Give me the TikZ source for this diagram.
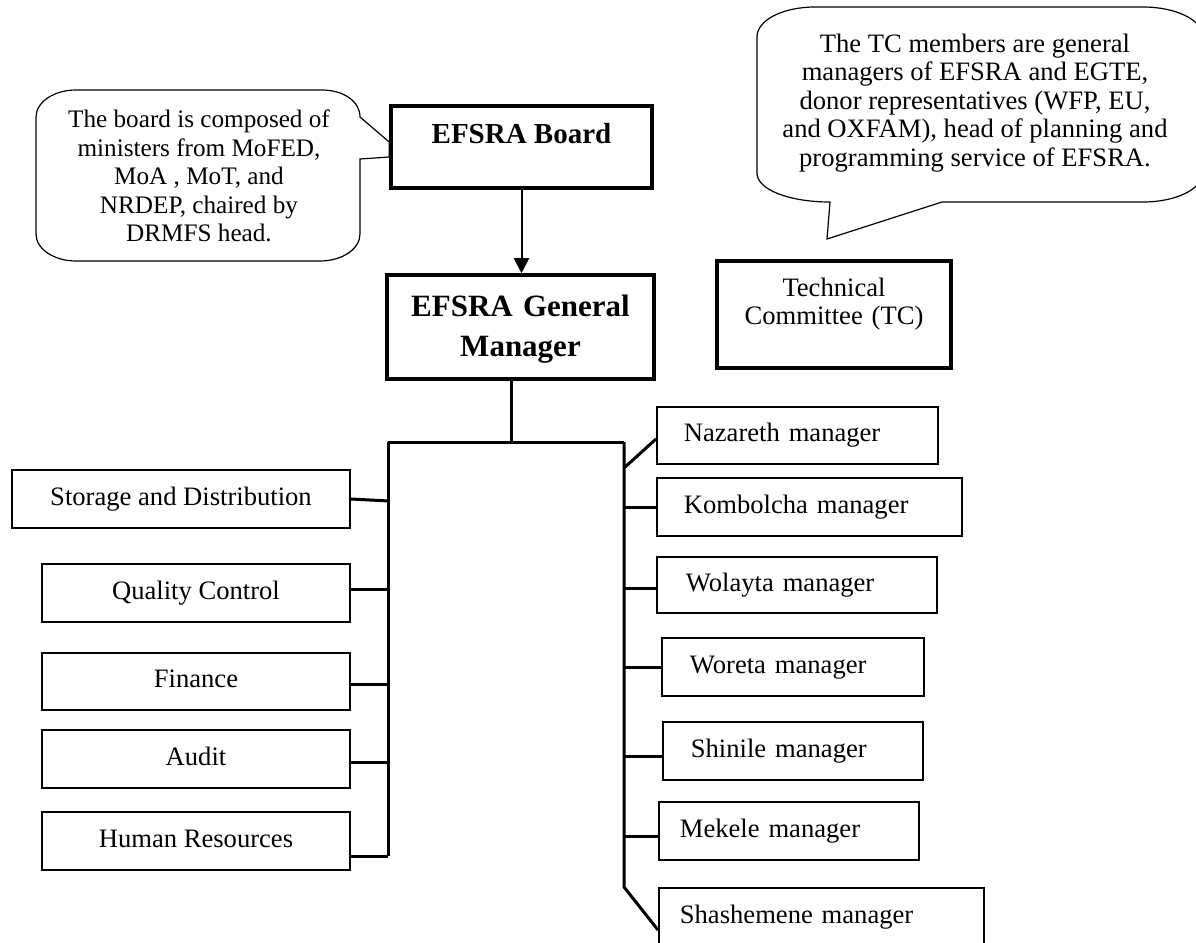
\documentclass[tikz,border=0pt]{standalone}
\usepackage{fontspec}
\setmainfont{Liberation Serif}
\usetikzlibrary{arrows.meta}

\begin{document}
\begin{tikzpicture}[x=0.5pt,y=-0.5pt,
    plain/.style={draw,line width=0.9pt,font=\fontsize{13.3}{14.2}\selectfont,
      text height=9.2pt,text depth=2.9pt,inner sep=0pt},
    branch/.style={plain,anchor=west,align=left},
    head/.style={draw,line width=1.8pt,align=center,inner ysep=0pt},
    link/.style={line width=1.5pt},
    note/.style={draw,line width=0.6pt,fill=white},
    notetext/.style={align=center,font=\fontsize{13.3}{14.2}\selectfont}]
  \useasboundingbox (0,0) rectangle (1196,943);

  \node[head,font=\bfseries\fontsize{14.5}{17}\selectfont,minimum width=130.5pt,
    minimum height=41pt,text height=18.5pt,text depth=22.5pt] (board) at (521.5,147) {EFSRA Board};
  \node[head,font=\bfseries\fontsize{15.5}{20}\selectfont,text width=120pt,minimum width=133.5pt,
    minimum height=52pt,text height=20.85pt,text depth=31.15pt] (gm) at (520.5,327) {EFSRA General\\Manager};
  \node[head,font=\fontsize{13.3}{14.2}\selectfont,text width=105pt,minimum width=117pt,
    minimum height=53.5pt,text height=17.5pt,text depth=36pt] (tc) at (834,314.5) {Technical\\Committee (TC)};

  % callouts
  \draw[note] (76,90) -- (322,90) .. controls (343,90) and (360,101) .. (360,117)
    -- ([yshift=2.5pt]board.west) -- ([yshift=-5pt]board.west) -- (360,159) -- (360,234)
    .. controls (360,249) and (342,261) .. (320,261) -- (76,261)
    .. controls (54,261) and (36,249) .. (36,234) -- (36,117)
    .. controls (36,102) and (54,90) .. (76,90) -- cycle;
  \node[notetext,font=\fontsize{12.6}{14.3}\selectfont] (boardnote) at (199,176)
    {The board is composed of\\ministers from MoFED,\\MoA , MoT, and\\NRDEP, chaired by\\DRMFS head.};
  \draw[note] (815,7) -- (1143,7) .. controls (1176,7) and (1203,20) .. (1203,37) -- (1203,172)
    .. controls (1203,189) and (1176,202) .. (1143,202) -- (942,202) -- (827,239) -- (830,202)
    .. controls (790,202) and (757,190) .. (757,173) -- (757,37)
    .. controls (757,20) and (783,7) .. (815,7) -- cycle;
  \node[notetext] (tcnote) at (975,103)
    {The TC members are general\\managers of EFSRA and EGTE,\\donor representatives (WFP, EU,\\and OXFAM), head of planning and\\programming service of EFSRA.};

  % departments
  \node[plain,minimum width=169pt,minimum height=29pt] (stor) at (181,499) {Storage and Distribution};
  \node[plain,minimum width=154pt,minimum height=29pt] (qc) at (196,593) {Quality Control};
  \node[plain,minimum width=154pt,minimum height=28.5pt] (fin) at (196,681.5) {Finance};
  \node[plain,minimum width=154pt,minimum height=29pt] (aud) at (196,759) {Audit};
  \node[plain,minimum width=154pt,minimum height=29pt] (hr) at (196,841) {Human Resources};

  % branches
  \node[branch,inner xsep=13.5pt,text width=113.5pt,minimum height=28.5pt] (naz) at (656,435.5) {Nazareth manager};
  \node[branch,inner xsep=13.5pt,text width=125.5pt,minimum height=29pt] (kom) at (656,507) {Kombolcha manager};
  \node[branch,inner xsep=14.5pt,text width=111pt,minimum height=28pt] (wol) at (656,585) {Wolayta manager};
  \node[branch,inner xsep=14pt,text width=103pt,minimum height=29pt] (wor) at (661,667) {Woreta manager};
  \node[branch,inner xsep=14pt,text width=102pt,minimum height=29pt] (shi) at (662,751) {Shinile manager};
  \node[branch,inner xsep=10.5pt,text width=109pt,minimum height=29pt] (mek) at (658,831) {Mekele manager};
  \node[branch,inner xsep=10.5pt,text width=141.5pt,minimum height=29pt] (sha) at (658,917) {Shashemene manager};

  \coordinate (split) at (511,442);
  \coordinate (ltop) at (388,442);
  \coordinate (rtop) at (624,442);
  \coordinate (lbot) at (388,856);
  \coordinate (rbot) at (624,887);

  \draw[line width=1pt,-{Triangle[width=7.5pt,length=7.5pt]}] (board.south) -- (board.south |- gm.north);
  \draw[link] (gm.south -| split) -- (split);
  \draw[link] (ltop) -- (rtop);
  \draw[link] (ltop) -- (lbot);
  \draw[link] (rtop) -- (rbot) -- ([yshift=-6.5pt]sha.west);

  \draw[link] (stor.east) -- ++(19pt,-1pt);
  \draw[link] ([yshift=2pt]qc.east) -- ++(19pt,0);
  \draw[link] ([yshift=-1.25pt]fin.east) -- ++(19pt,0);
  \draw[link] ([yshift=-1.5pt]aud.east) -- ++(19pt,0);
  \draw[link] ([yshift=-7.5pt]hr.east) -- (lbot);

  \draw[link] ([yshift=-13pt]rtop) -- ([yshift=-1.75pt]naz.west);
  \draw[link] (kom.west) -- (kom.west -| rtop);
  \draw[link] ([yshift=-1.5pt]wol.west) -- ++(-16pt,0);
  \draw[link] (wor.west) -- (wor.west -| rtop);
  \draw[link] ([yshift=-2.5pt]shi.west) -- ++(-19pt,0);
  \draw[link] ([yshift=-2.5pt]mek.west) -- ++(-17pt,0);
\end{tikzpicture}
\end{document}
